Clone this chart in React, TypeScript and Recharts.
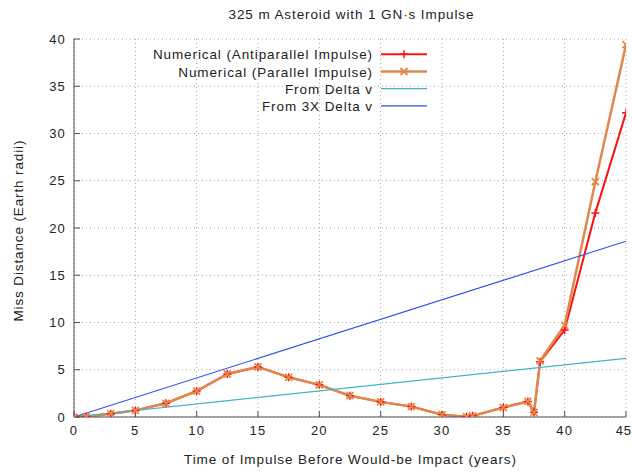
import React from 'react';
import { LineChart, Line, XAxis, YAxis, CartesianGrid } from 'recharts';

const years = [0, 1, 3, 5, 7.5, 10, 12.5, 15, 17.5, 20, 22.5, 25, 27.5, 30, 32, 32.5, 35, 37, 37.5, 38, 40, 42.5, 45];
const antiparallel = [0, 0.05, 0.35, 0.7, 1.45, 2.75, 4.55, 5.3, 4.2, 3.4, 2.25, 1.6, 1.1, 0.25, 0.03, 0.12, 1.0, 1.65, 0.5, 5.85, 9.2, 21.6, 32.2];
const parallel = [0, 0.05, 0.35, 0.7, 1.45, 2.75, 4.55, 5.3, 4.2, 3.4, 2.25, 1.6, 1.1, 0.25, 0.03, 0.12, 1.0, 1.65, 0.5, 5.95, 9.7, 24.9, 39.4];
const lineYears = [0, 45];
const deltaV = [0, 6.2];
const delta3V = [0, 18.6];
const xTicks = [0, 5, 10, 15, 20, 25, 30, 35, 40, 45];
const yTicks = [0, 5, 10, 15, 20, 25, 30, 35, 40];

const legendLabels = [
  'Numerical (Antiparallel Impulse)',
  'Numerical (Parallel Impulse)',
  'From Delta v',
  'From 3X Delta v',
];

const RED = '#ff1010';
const ORANGE = '#e0884a';
const CYAN = '#40b4cc';
const BLUE = '#2a50f2';
const FONT = '"Liberation Sans", Arial, sans-serif';
const AXIS = '#505050';
const TEXT = '#222';

const antiData = years.map((x, i) => ({ x, v: antiparallel[i] }));
const paraData = years.map((x, i) => ({ x, v: parallel[i] }));
const dvData = lineYears.map((x, i) => ({ x, v: deltaV[i] }));
const dv3Data = lineYears.map((x, i) => ({ x, v: delta3V[i] }));

const Plus = (p: any) => {
  const { cx, cy, index } = p;
  if (cx == null || cy == null) return <g key={`pl-${index}`} />;
  return (
    <path key={`pl-${index}`} d={`M${cx - 4},${cy}H${cx + 4}M${cx},${cy - 4}V${cy + 4}`} stroke={RED} strokeWidth={1.5} fill="none" />
  );
};

const Cross = (p: any) => {
  const { cx, cy, index } = p;
  if (cx == null || cy == null) return <g key={`cr-${index}`} />;
  const r = 3.5;
  return (
    <path key={`cr-${index}`} d={`M${cx - r},${cy - r}L${cx + r},${cy + r}M${cx - r},${cy + r}L${cx + r},${cy - r}`} stroke={ORANGE} strokeWidth={1.8} fill="none" />
  );
};

const tickStyle = { fontSize: 13, fill: TEXT, fontFamily: FONT, letterSpacing: 1.2 };

const XTick = (p: any) => {
  const { x, y, payload } = p;
  const last = payload.value === xTicks[xTicks.length - 1];
  return (
    <text x={last ? x + 5.5 : x} y={y} dy="0.71em" textAnchor={last ? 'end' : 'middle'} fontSize={13} fill={TEXT} fontFamily={FONT} letterSpacing={last ? 0.6 : 1.2}>
      {payload.value}
    </text>
  );
};

export default function App() {
  const rowY = (i: number) => 54.3 + i * 17.2;
  return (
    <div style={{ position: 'absolute', left: 0, top: 0, width: 632, height: 474, background: '#fff' }}>
      <LineChart width={632} height={474} margin={{ top: 39, right: 6, bottom: 0, left: 0 }}>
        <CartesianGrid stroke="#a8a8a8" strokeDasharray="1 3" strokeWidth={1} />
        <XAxis xAxisId={0} dataKey="x" type="number" domain={[0, 45]} ticks={xTicks} allowDataOverflow
          height={57} tickSize={-6} tickMargin={15} tick={XTick} stroke={AXIS} tickLine={{ stroke: AXIS }} interval={0} />
        <XAxis xAxisId="top" orientation="top" dataKey="x" type="number" domain={[0, 45]} ticks={xTicks} allowDataOverflow
          height={0} tickSize={-6} tick={false} stroke={AXIS} tickLine={{ stroke: AXIS }} interval={0} />
        <YAxis yAxisId={0} type="number" domain={[0, 40]} ticks={yTicks} allowDataOverflow
          width={74} tickSize={-6} tickMargin={14} tick={tickStyle} stroke={AXIS} tickLine={{ stroke: AXIS }} interval={0} />
        <YAxis yAxisId="right" orientation="right" type="number" domain={[0, 40]} ticks={yTicks} allowDataOverflow
          width={0} tickSize={-6} tick={false} stroke={AXIS} tickLine={{ stroke: AXIS }} interval={0} />
        <Line data={antiData} dataKey="v" type="linear" stroke={RED} strokeWidth={2} dot={Plus} activeDot={false} isAnimationActive={false} />
        <Line data={paraData} dataKey="v" type="linear" stroke={ORANGE} strokeWidth={2.5} dot={Cross} activeDot={false} isAnimationActive={false} />
        <Line data={dvData} dataKey="v" type="linear" stroke={CYAN} strokeWidth={1.2} dot={false} activeDot={false} isAnimationActive={false} />
        <Line data={dv3Data} dataKey="v" type="linear" stroke={BLUE} strokeWidth={1.1} dot={false} activeDot={false} isAnimationActive={false} />
      </LineChart>
      <svg width={632} height={474} style={{ position: 'absolute', left: 0, top: 0, pointerEvents: 'none' }}>
        <text x={351} y={19} textAnchor="middle" fontSize={13.5} fill={TEXT} fontFamily={FONT} textLength={245} lengthAdjust="spacing">325 m Asteroid with 1 GN·s Impulse</text>
        <text x={350} y={464} textAnchor="middle" fontSize={13.5} fill={TEXT} fontFamily={FONT} textLength={332} lengthAdjust="spacing">Time of Impulse Before Would-be Impact (years)</text>
        <text transform="translate(23,231) rotate(-90)" textAnchor="middle" fontSize={13.5} fill={TEXT} fontFamily={FONT} textLength={181} lengthAdjust="spacing">Miss Distance (Earth radii)</text>
        {legendLabels.map((t, i) => (
          <text key={t} x={373} y={rowY(i) + 5} textAnchor="end" fontSize={13.5} fill={TEXT} fontFamily={FONT} letterSpacing={0.9}>{t}</text>
        ))}
        <line x1={381} x2={427} y1={rowY(0)} y2={rowY(0)} stroke={RED} strokeWidth={2} />
        <path d={`M${400},${rowY(0)}H${408}M${404},${rowY(0) - 4}V${rowY(0) + 4}`} stroke={RED} strokeWidth={1.5} />
        <line x1={381} x2={427} y1={rowY(1)} y2={rowY(1)} stroke={ORANGE} strokeWidth={2.5} />
        <path d={`M${400.5},${rowY(1) - 3.5}L${407.5},${rowY(1) + 3.5}M${400.5},${rowY(1) + 3.5}L${407.5},${rowY(1) - 3.5}`} stroke={ORANGE} strokeWidth={1.8} />
        <line x1={381} x2={427} y1={rowY(2)} y2={rowY(2)} stroke={CYAN} strokeWidth={1.2} />
        <line x1={381} x2={427} y1={rowY(3)} y2={rowY(3)} stroke={BLUE} strokeWidth={1.1} />
      </svg>
    </div>
  );
}
